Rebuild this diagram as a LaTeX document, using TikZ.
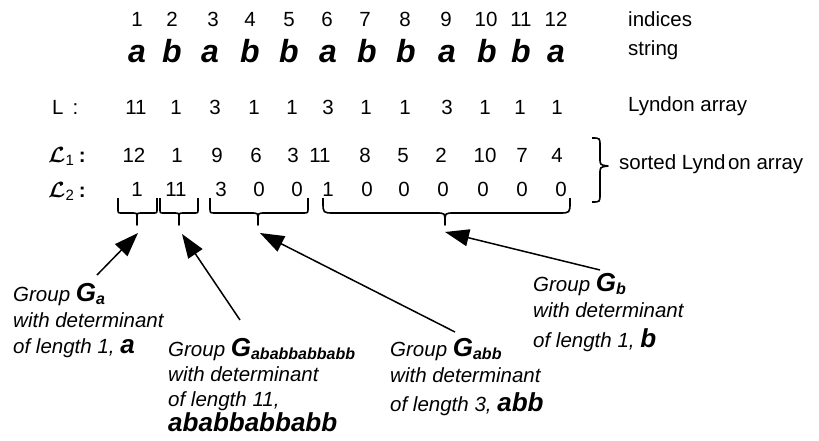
\RequirePackage{fix-cm}
\documentclass[tikz,border=0pt]{standalone}
\usepackage{fontspec}
\setmainfont{Liberation Sans}
\usetikzlibrary{arrows.meta}

\newcommand\Gsub[1]{{\fontsize{26}{26}\selectfont\bfseries\itshape G}\raisebox{-3pt}{\fontsize{16}{16}\selectfont\bfseries\itshape #1}}
\newcommand\bigbi[1]{{\fontsize{26}{26}\selectfont\bfseries\itshape #1}}
\newcommand\scrL[1]{{\fontsize{22}{22}\selectfont\boldmath$\mathcal{L}$}{\fontsize{15}{15}\selectfont\raisebox{-3pt}{#1}}\hspace{5pt}\textbf{:}}
\newcommand\dnbrace[5]{%
 \draw[brc] (#1,198) -- (#1,{213-#4}) .. controls (#1,213) .. ({#1+#4},213)
   -- ({#2-#5},213) .. controls (#2,213) .. (#2,{213+#5}) -- (#2,225)
   -- (#2,{213+#5}) .. controls (#2,213) .. ({#2+#5},213)
   -- ({#3-#4},213) .. controls (#3,213) .. (#3,{213-#4}) -- (#3,198);}

\begin{document}
\begin{tikzpicture}[x=1pt,y=-1pt,
  num/.style={font=\fontsize{20.5}{24}\selectfont, inner sep=0pt, anchor=base},
  strl/.style={font=\fontsize{32}{36}\selectfont\bfseries\itshape, inner sep=0pt, anchor=base},
  lab/.style={font=\fontsize{20.5}{24}\selectfont, inner sep=0pt, anchor=base west},
  grp/.style={font=\fontsize{20.5}{26}\selectfont\itshape, align=left, inner sep=0pt, anchor=north west},
  brc/.style={line width=1.6pt, line join=round},
  arr/.style={line width=1.5pt, -{Triangle[length=24pt,width=17pt]}}]
\useasboundingbox (0,0) rectangle (819,441);

% indices
\foreach \x [count=\i] in {137,172,213,250,289,327,365,405,446,486,521,556}
  \node[num] (idx\i) at (\x,27) {\i};
% string
\foreach \x/\c [count=\i] in {137/a,172/b,210/a,250/b,289/b,328/a,367/b,406/b,447/a,487/b,521/b,556/a}
  \node[strl] (s\i) at (\x,63) {\c};
% Lyndon array
\foreach \x/\v [count=\i] in {136/11,176/1,215/3,254/1,292/1,328/3,366/1,405/1,447/3,485/1,520/1,557/1}
  \node[num] (la\i) at (\x,115) {\v};
% L1
\foreach \x/\v [count=\i] in {134/12,177/1,217/9,256/6,293/3,320/11,365/8,403/5,441/2,485/10,522/7,557/4}
  \node[num] (lo\i) at (\x,162) {\v};
% L2
\foreach \x/\v [count=\i] in {137/1,176/11,221/3,259/0,297/0,328/1,367/0,404/0,443/0,483/0,522/0,561/0}
  \node[num] (lt\i) at (\x,196) {\v};

% left labels
\node[lab] (labL) at (52,115) {L\hspace{9pt}:};
\node[lab] (labLone) at (48,162) {\scrL{1}};
\node[lab] (labLtwo) at (48,197) {\scrL{2}};

% right labels
\node[lab] (rind) at (628,27) {indices};
\node[lab] (rstr) at (628,56) {string};
\node[lab] (rlyn) at (628,112) {Lyndon array};
\node[lab] (rsort) at (619,169) {sorted Lynd\kern2.5pt on array};

% right brace
\draw[brc] (592,138) .. controls (600,138) .. (600,146) -- (600,158)
  .. controls (600,165) .. (608,166) .. controls (600,167) .. (600,174)
  -- (600,194) .. controls (600,202) .. (592,202);

% braces under L2
\dnbrace{118}{137}{157}{4}{5}
\dnbrace{160}{179}{198}{4}{5}
\dnbrace{210}{258}{308}{5}{7}
\dnbrace{323}{445}{570}{11}{9}

% group labels
\node[grp] (ga) at (13,283) {Group \Gsub{a}\\with determinant\\of length 1, \bigbi{a}};
\node[grp, font=\fontsize{20.5}{25}\selectfont\itshape] (gabab) at (168,338) {Group \Gsub{ababbabbabb}\\with determinant\\of length 11,\\\bigbi{ababbabbabb}};
\node[grp] (gabb) at (390,338) {Group \Gsub{abb}\\with determinant\\[3pt]of length 3, \bigbi{abb}};
\node[grp] (gb) at (533,273) {Group \Gsub{b}\\with determinant\\[4pt]of length 1, \bigbi{b}};

% arrow ends
\coordinate (tailA) at (97,275);   \coordinate (tipA) at (138,233);
\coordinate (tailB) at (240,320);  \coordinate (tipB) at (182,234);
\coordinate (tailC) at (455,332);  \coordinate (tipC) at (260,233);
\coordinate (tailD) at (600,270);  \coordinate (tipD) at (445,232);

\draw[arr] (tailA) -- (tipA);
\draw[arr] (tailB) -- (tipB);
\draw[arr] (tailC) -- (tipC);
\draw[arr] (tailD) -- (tipD);
\end{tikzpicture}
\end{document}
